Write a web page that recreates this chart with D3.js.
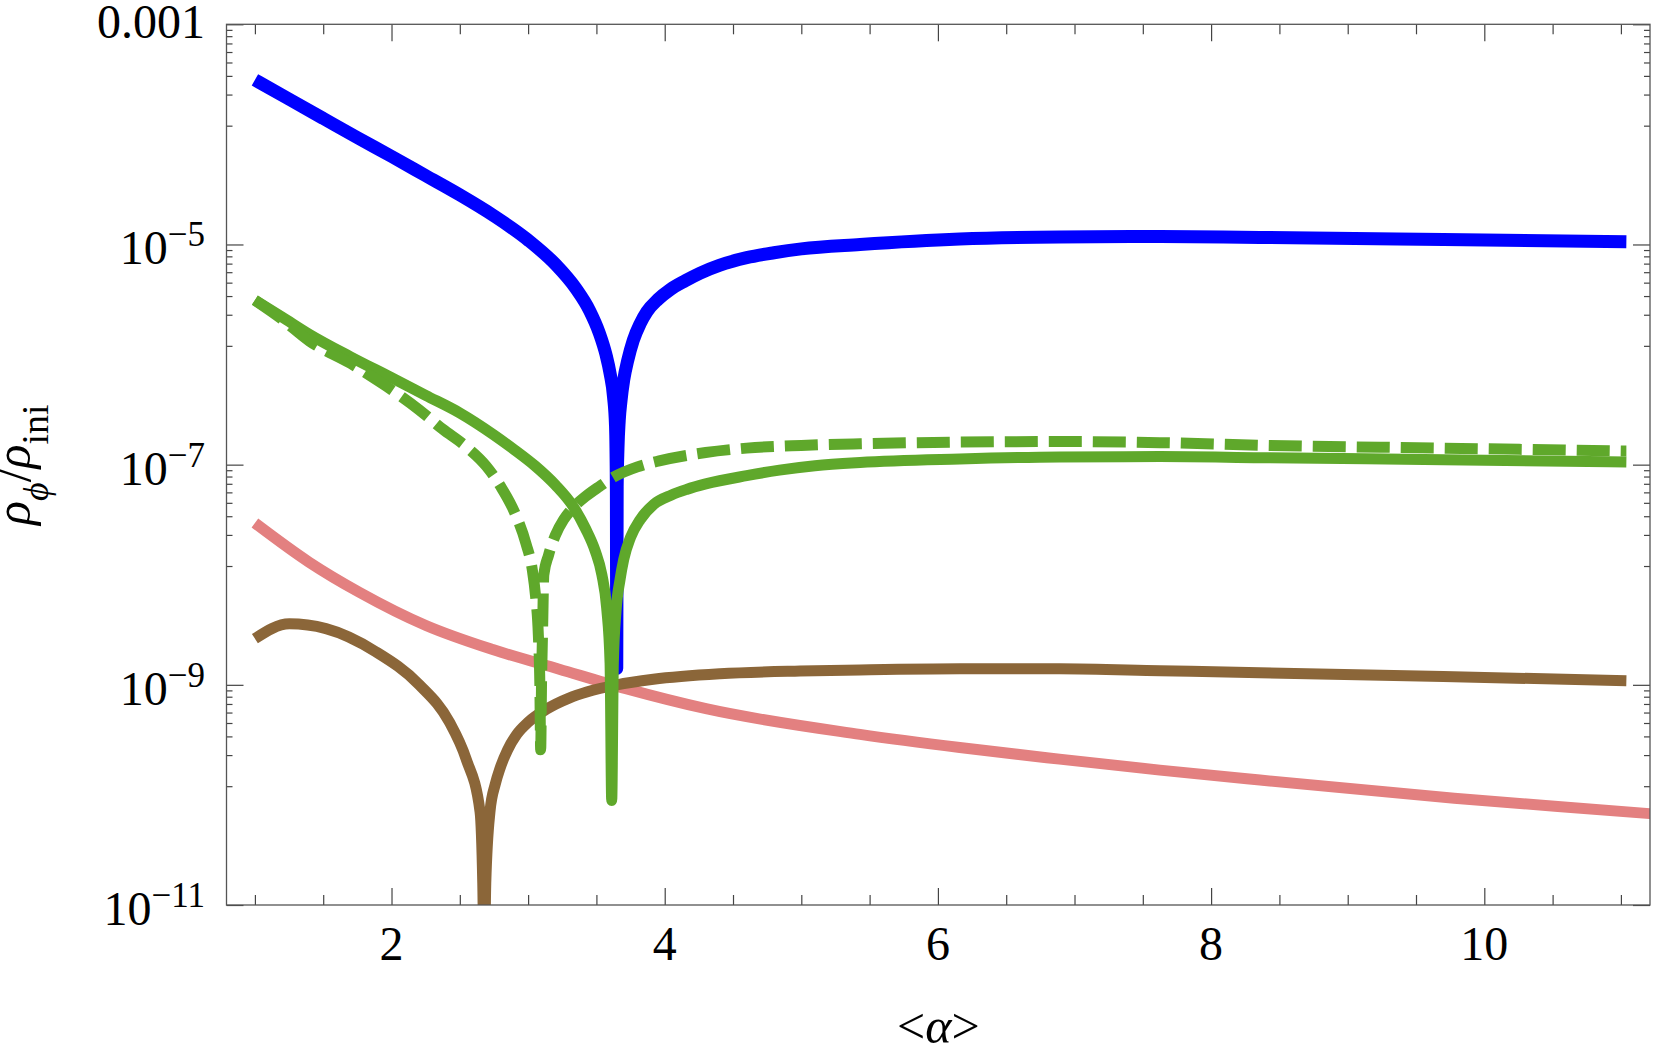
<!DOCTYPE html>
<html>
<head>
<meta charset="utf-8">
<script src="https://cdn.jsdelivr.net/npm/d3@7"></script>
<style>
body { margin: 0; background: #fff; }
text { font-family: "Liberation Serif", "Times New Roman", serif; fill: #000; }
</style>
</head>
<body>
<script>
// values; y values are given as exponents, rho = 10^e
var blueX = [1.00, 1.25, 1.50, 1.75, 2.00, 2.25, 2.50, 2.75, 3.00, 3.20, 3.35, 3.45, 3.52, 3.57, 3.60, 3.625, 3.64, 3.646, 3.649, 3.652, 3.658, 3.667, 3.68, 3.70, 3.73, 3.77, 3.82, 3.87, 3.95, 4.04, 4.15, 4.26, 4.40, 4.60, 4.80, 5.00, 5.43, 6.16, 6.89, 7.625, 8.358, 9.70, 11.04]
var blueE = [-3.505, -3.68, -3.855, -4.03, -4.20, -4.375, -4.55, -4.74, -4.96, -5.18, -5.40, -5.60, -5.80, -6.0, -6.17, -6.38, -6.65, -7.2, -8.85, -7.2, -6.85, -6.6, -6.42, -6.23, -6.05, -5.87, -5.72, -5.61, -5.5, -5.41, -5.33, -5.26, -5.19, -5.12, -5.075, -5.04, -5.0, -4.95, -4.932, -4.928, -4.936, -4.955, -4.976]

var greenX = [1.00, 1.20, 1.40, 1.70, 2.00, 2.25, 2.50, 2.75, 2.90, 3.05, 3.20, 3.33, 3.42, 3.49, 3.54, 3.575, 3.60, 3.612, 3.624, 3.643, 3.673, 3.70, 3.75, 3.82, 3.92, 4.05, 4.16, 4.30, 4.60, 4.84, 5.10, 5.43, 6.16, 6.89, 7.625, 8.358, 9.70, 11.04]
var greenE = [-5.506, -5.66, -5.817, -6.02, -6.21, -6.37, -6.53, -6.73, -6.865, -7.01, -7.185, -7.38, -7.58, -7.78, -8.0, -8.3, -8.8, -10.05, -8.8, -8.34, -8.045, -7.86, -7.66, -7.50, -7.36, -7.275, -7.225, -7.175, -7.10, -7.05, -7.01, -6.98, -6.948, -6.93, -6.927, -6.937, -6.955, -6.976]

var dashX = [1.00, 1.20, 1.40, 1.70, 1.96, 2.20, 2.375, 2.55, 2.692, 2.80, 2.90, 2.985, 3.03, 3.055, 3.075, 3.086, 3.092, 3.098, 3.106, 3.115, 3.15, 3.20, 3.26, 3.33, 3.42, 3.52, 3.63, 3.80, 3.96, 4.30, 4.60, 5.00, 5.43, 6.16, 6.89, 7.625, 8.358, 9.70, 11.04]
var dashE = [-5.506, -5.68, -5.878, -6.08, -6.286, -6.50, -6.678, -6.84, -7.011, -7.2, -7.43, -7.72, -7.95, -8.2, -8.55, -9.0, -9.59, -9.0, -8.5, -8.0, -7.82, -7.64, -7.50, -7.39, -7.29, -7.20, -7.11, -7.02, -6.966, -6.89, -6.85, -6.825, -6.81, -6.795, -6.79, -6.80, -6.824, -6.85, -6.877]

var pinkX = [1.00, 1.398, 1.764, 2.252, 2.741, 3.228, 3.716, 4.302, 5.43, 6.16, 6.89, 7.625, 8.358, 9.78, 11.21, 11.4]
var pinkE = [-7.53, -7.887, -8.159, -8.461, -8.68, -8.858, -9.035, -9.217, -9.45, -9.57, -9.675, -9.775, -9.865, -10.03, -10.17, -10.19]

var brownX = [1.00, 1.252, 1.52, 1.886, 2.204, 2.423, 2.545, 2.648, 2.668, 2.679, 2.69, 2.721, 2.76, 2.794, 2.85, 2.917, 3.00, 3.136, 3.30, 3.429, 3.65, 3.917, 4.405, 4.99, 5.43, 6.16, 6.89, 7.625, 8.358, 9.70, 11.04]
var brownE = [-8.58, -8.446, -8.49, -8.70, -9.0, -9.337, -9.67, -10.15, -10.8, -11.6, -10.8, -10.15, -9.9, -9.76, -9.59, -9.45, -9.34, -9.22, -9.12, -9.065, -9.0, -8.95, -8.9, -8.875, -8.865, -8.855, -8.855, -8.872, -8.89, -8.925, -8.962]

// ticks and labels
var xMajor = [2, 4, 6, 8, 10]
var xMajorText = ["2", "4", "6", "8", "10"]
var yMajor = [1e-3, 1e-5, 1e-7, 1e-9, 1e-11]
var yMajorBase = ["0.001", "10", "10", "10", "10"]
var yMajorSup = ["", "\u22125", "\u22127", "\u22129", "\u221211"]

var W = 1666, H = 1055
var margin = {top: 24.3, right: 16, bottom: 150, left: 226.5},
    plotL = margin.left, plotR = W - margin.right,
    plotT = margin.top, plotB = H - margin.bottom

var svg = d3.select("body").append("svg")
    .attr("width", W)
    .attr("height", H)

var x = d3.scaleLinear().domain([0.792, 11.213]).range([plotL, plotR])
var y = d3.scaleLog().domain([1e-11, 1e-3]).range([plotB, plotT])

function pts(xs, es) {
  return xs.map(function(v, i) { return [v, Math.pow(10, es[i])] })
}

var series = [
  {d: pts(pinkX, pinkE), color: "#e38080", w: 11},
  {d: pts(brownX, brownE), color: "#8b6639", w: 11},
  {d: pts(blueX, blueE), color: "#0000ff", w: 13},
  {d: pts(greenX, greenE), color: "#5fa82b", w: 11},
  {d: pts(dashX, dashE), color: "#5fa82b", w: 11, dash: "33,11"}
]

svg.append("clipPath").attr("id", "plot")
  .append("rect")
    .attr("x", plotL).attr("y", plotT)
    .attr("width", plotR - plotL).attr("height", plotB - plotT)

var line = d3.line()
    .x(function(d) { return x(d[0]) })
    .y(function(d) { return y(d[1]) })
    .curve(d3.curveMonotoneX)

svg.append("g")
    .attr("clip-path", "url(#plot)")
  .selectAll("path")
    .data(series)
    .enter().append("path")
      .attr("d", function(s) { return line(s.d) })
      .attr("fill", "none")
      .attr("stroke", function(s) { return s.color })
      .attr("stroke-width", function(s) { return s.w })
      .attr("stroke-dasharray", function(s) { return s.dash || null })
      .attr("stroke-linejoin", "round")
      .attr("stroke-linecap", "butt")

// tick marks, all pointing inward
var xMinor = d3.range(1, 11.01, 0.5).filter(function(v) { return xMajor.indexOf(v) < 0 })
var yMinor = []
for (var i = 0; i < yMajor.length - 1; i++) {
  var hi = yMajor[i], lo = yMajor[i + 1]
  for (var j = 1; j <= 8; j++) yMinor.push(lo + j * (hi - lo) / 9)
}

function addAxis(axis, tx, ty) {
  var g = svg.append("g")
      .attr("transform", "translate(" + tx + "," + ty + ")")
      .call(axis)
  g.select(".domain").remove()
  g.selectAll("text").remove()
  g.selectAll("line").attr("stroke", "#444").attr("stroke-width", 1.2)
}

addAxis(d3.axisBottom(x).tickValues(xMajor).tickSize(-17), 0, plotB)
addAxis(d3.axisBottom(x).tickValues(xMinor).tickSize(-10), 0, plotB)
addAxis(d3.axisTop(x).tickValues(xMajor).tickSize(-17), 0, plotT)
addAxis(d3.axisTop(x).tickValues(xMinor).tickSize(-10), 0, plotT)
addAxis(d3.axisLeft(y).tickValues(yMajor).tickSize(-17), plotL, 0)
addAxis(d3.axisLeft(y).tickValues(yMinor).tickSize(-6), plotL, 0)
addAxis(d3.axisRight(y).tickValues(yMajor).tickSize(-17), plotR, 0)
addAxis(d3.axisRight(y).tickValues(yMinor).tickSize(-6), plotR, 0)

svg.append("rect")
    .attr("x", plotL).attr("y", plotT)
    .attr("width", plotR - plotL).attr("height", plotB - plotT)
    .attr("fill", "none")
    .attr("stroke", "#555")
    .attr("stroke-width", 1.3)

// tick labels
svg.append("g").selectAll("text")
    .data(xMajor)
    .enter().append("text")
      .attr("x", function(d) { return x(d) })
      .attr("y", plotB + 55)
      .attr("text-anchor", "middle")
      .style("font-size", "48px")
      .text(function(d, i) { return xMajorText[i] })

var yl = svg.append("g").selectAll("text")
    .data(yMajor)
    .enter().append("text")
      .attr("x", 205)
      .attr("y", function(d, i) { return y(d) + (yMajorSup[i] ? 20 : 14) })
      .attr("text-anchor", "end")
      .style("font-size", "48px")
yl.append("tspan").text(function(d, i) { return yMajorBase[i] })
yl.append("tspan")
    .attr("dy", -18)
    .style("font-size", "35px")
    .text(function(d, i) { return yMajorSup[i] })

// axis titles
var xt = svg.append("text")
    .attr("x", (plotL + plotR) / 2)
    .attr("y", 1043)
    .attr("text-anchor", "middle")
    .style("font-size", "50px")
xt.append("tspan").text("<")
xt.append("tspan").style("font-style", "italic").text("\u03b1")
xt.append("tspan").text(">")

var yt = svg.append("text")
    .attr("transform", "translate(30," + ((plotT + plotB) / 2) + ") rotate(-90)")
    .attr("text-anchor", "middle")
    .style("font-size", "50px")
yt.append("tspan").style("font-style", "italic").text("\u03c1")
yt.append("tspan").attr("dy", 18).style("font-size", "36px").style("font-style", "italic").text("\u03d5")
yt.append("tspan").attr("dy", -18).text("/")
yt.append("tspan").style("font-style", "italic").text("\u03c1")
yt.append("tspan").attr("dy", 18).style("font-size", "38px").text("ini")
</script>
</body>
</html>
